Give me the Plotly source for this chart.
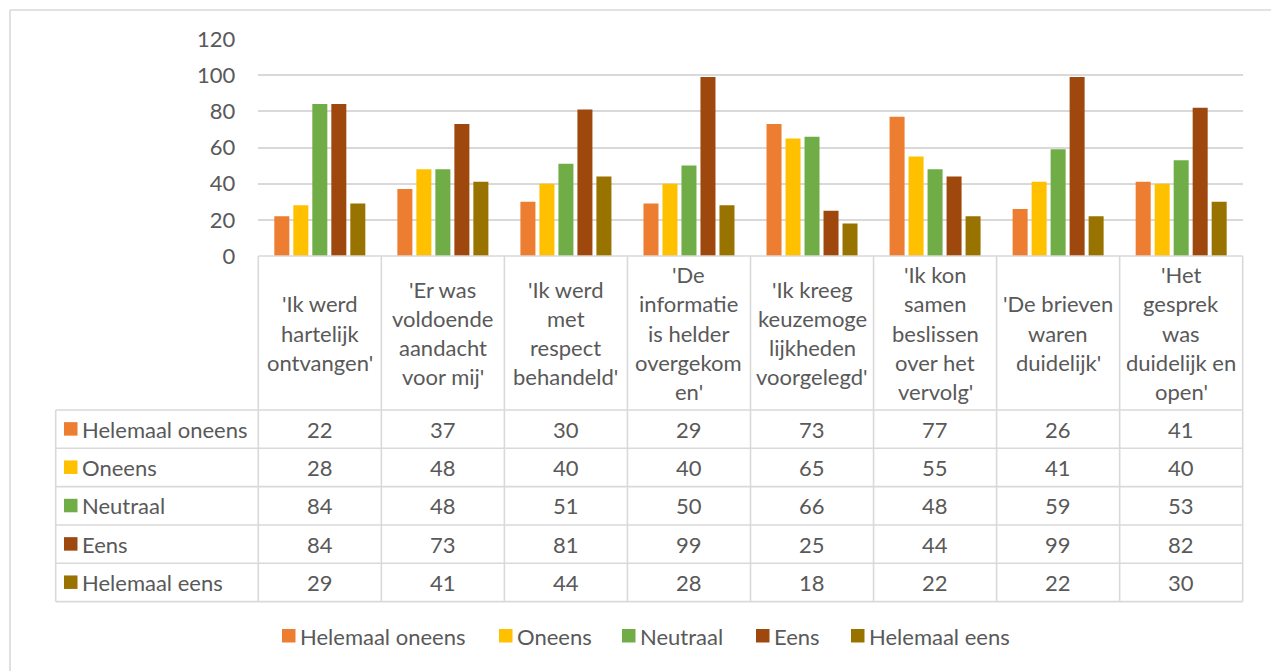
import plotly.graph_objects as go

# Survey statements (category labels, wrapped as in the data table header)
categories = [
    "'Ik werd<br>hartelijk<br>ontvangen'",
    "'Er was<br>voldoende<br>aandacht<br>voor mij'",
    "'Ik werd<br>met<br>respect<br>behandeld'",
    "'De<br>informatie<br>is helder<br>overgekom<br>en'",
    "'Ik kreeg<br>keuzemoge<br>lijkheden<br>voorgelegd'",
    "'Ik kon<br>samen<br>beslissen<br>over het<br>vervolg'",
    "'De brieven<br>waren<br>duidelijk'",
    "'Het<br>gesprek<br>was<br>duidelijk en<br>open'",
]

series_names = ["Helemaal oneens", "Oneens", "Neutraal", "Eens", "Helemaal eens"]

helemaal_oneens = [22, 37, 30, 29, 73, 77, 26, 41]
oneens = [28, 48, 40, 40, 65, 55, 41, 40]
neutraal = [84, 48, 51, 50, 66, 48, 59, 53]
eens = [84, 73, 81, 99, 25, 44, 99, 82]
helemaal_eens = [29, 41, 44, 28, 18, 22, 22, 30]

y_ticks = [0, 20, 40, 60, 80, 100, 120]

series_values = [helemaal_oneens, oneens, neutraal, eens, helemaal_eens]
colors = ["#ED7D31", "#FFC000", "#70AD47", "#9E480E", "#997300"]

W, H = 1271, 671
FONT = "Lato"
TXT = "#595959"
GRID = "#D9D9D9"
FS = 22


def px(x):
    return x / W


def py(y):
    return 1 - y / H


# plot area / table geometry (pixels)
x_left, x_right = 258.3, 1242.7
y_zero, y_top = 256, 39
row_lines = [410, 448.3, 486.6, 525, 563.3, 601.6]
label_left = 55.7

idx = list(range(len(categories)))

fig = go.Figure()
for name, vals, col in zip(series_names, series_values, colors):
    fig.add_trace(go.Bar(
        x=idx, y=vals, name=name, marker=dict(color=col, line=dict(width=0)),
        showlegend=False,
    ))

shapes = []
line_style = dict(color=GRID, width=1.6)

# outer chart frame (left and top edges)
shapes.append(dict(type="line", xref="paper", yref="paper",
                   x0=px(10), x1=px(10), y0=py(10), y1=py(H + 5), line=line_style))
shapes.append(dict(type="line", xref="paper", yref="paper",
                   x0=px(10), x1=px(W + 5), y0=py(10), y1=py(10), line=line_style))

# data table: horizontal lines
shapes.append(dict(type="line", xref="paper", yref="paper",
                   x0=px(x_left), x1=px(x_right), y0=py(y_zero), y1=py(y_zero), line=line_style))
for ry in row_lines:
    shapes.append(dict(type="line", xref="paper", yref="paper",
                       x0=px(label_left), x1=px(x_right), y0=py(ry), y1=py(ry), line=line_style))

# data table: vertical lines
n = len(categories)
col_w = (x_right - x_left) / n
for k in range(n + 1):
    xx = x_left + k * col_w
    shapes.append(dict(type="line", xref="paper", yref="paper",
                       x0=px(xx), x1=px(xx), y0=py(y_zero), y1=py(row_lines[-1]), line=line_style))
shapes.append(dict(type="line", xref="paper", yref="paper",
                   x0=px(label_left), x1=px(label_left), y0=py(row_lines[0]), y1=py(row_lines[-1]),
                   line=line_style))

annotations = []

# header: category labels, line by line
header_mid = (y_zero + row_lines[0]) / 2
line_h = 29.2
for i, cat in enumerate(categories):
    lines = cat.split("<br>")
    start = header_mid - (len(lines) - 1) * line_h / 2
    for j, ln in enumerate(lines):
        annotations.append(dict(
            x=i, xref="x", y=py(start + j * line_h), yref="paper",
            text=ln, showarrow=False, xanchor="center", yanchor="middle",
            font=dict(family=FONT, size=FS, color=TXT),
        ))

# table rows: legend key, series name and values
for r, (name, vals, col) in enumerate(zip(series_names, series_values, colors)):
    cy = (row_lines[r] + row_lines[r + 1]) / 2
    shapes.append(dict(type="rect", xref="paper", yref="paper",
                       x0=px(64), x1=px(77.5), y0=py(cy - 7), y1=py(cy + 6.5),
                       fillcolor=col, line=dict(width=0)))
    annotations.append(dict(
        x=px(80), xref="paper", y=py(cy), yref="paper", text=name,
        showarrow=False, xanchor="left", yanchor="middle",
        font=dict(family=FONT, size=FS, color=TXT),
    ))
    for i, v in enumerate(vals):
        annotations.append(dict(
            x=i, xref="x", y=py(cy), yref="paper", text=str(v),
            showarrow=False, xanchor="center", yanchor="middle",
            font=dict(family=FONT, size=FS, color=TXT),
        ))

# legend below the table
legend_sq = [282, 499, 622, 756, 851]
legend_y = 636
for name, col, sx in zip(series_names, colors, legend_sq):
    shapes.append(dict(type="rect", xref="paper", yref="paper",
                       x0=px(sx), x1=px(sx + 13.5), y0=py(legend_y - 7), y1=py(legend_y + 6.5),
                       fillcolor=col, line=dict(width=0)))
    annotations.append(dict(
        x=px(sx + 16), xref="paper", y=py(legend_y), yref="paper", text=name,
        showarrow=False, xanchor="left", yanchor="middle",
        font=dict(family=FONT, size=FS, color=TXT),
    ))

fig.update_layout(
    width=W, height=H, autosize=False,
    margin=dict(l=0, r=0, t=0, b=0),
    paper_bgcolor="white", plot_bgcolor="white",
    barmode="group", bargap=0.228, bargroupgap=0.21,
    xaxis=dict(domain=[px(x_left), px(x_right)], range=[-0.5, n - 0.5],
               showticklabels=False, showgrid=False, zeroline=False, showline=False,
               fixedrange=True),
    yaxis=dict(domain=[py(y_zero), py(y_top)], range=[0, 120], tickvals=y_ticks,
               showgrid=True, gridcolor=GRID, gridwidth=1.6, zeroline=False,
               showline=False, ticks="", ticklabelstandoff=22, automargin=False,
               tickfont=dict(family=FONT, size=FS, color=TXT), fixedrange=True),
    shapes=shapes,
    annotations=annotations,
    showlegend=False,
)

fig.write_html("out.html")
